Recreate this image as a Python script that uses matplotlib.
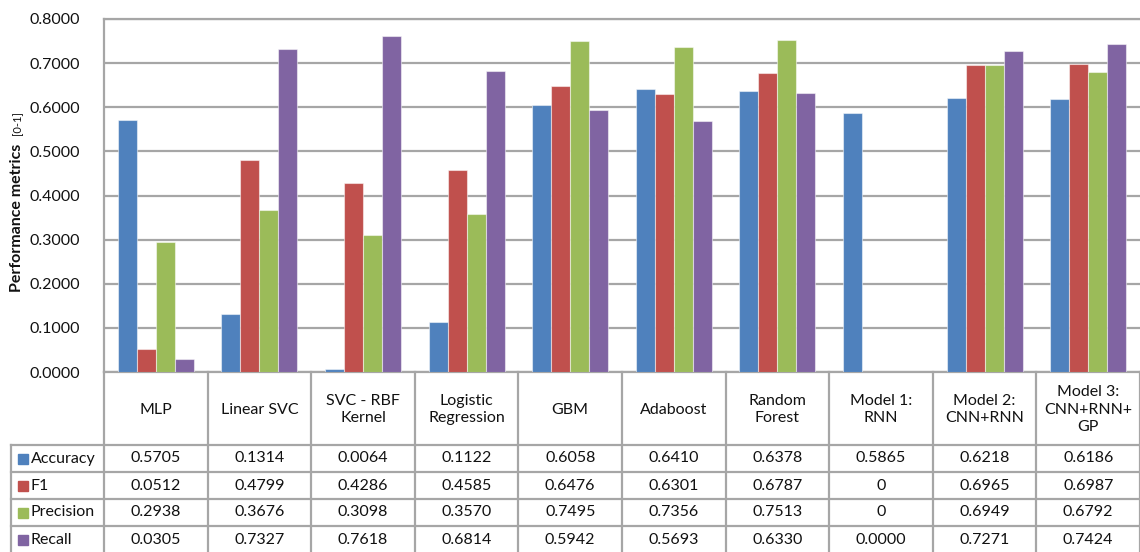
import matplotlib
matplotlib.use("Agg")
import matplotlib.pyplot as plt
from matplotlib.patches import Rectangle

plt.rcParams['font.family'] = ['Lato', 'DejaVu Sans']

models = ["MLP", "Linear SVC", "SVC - RBF\nKernel", "Logistic\nRegression", "GBM",
          "Adaboost", "Random\nForest", "Model 1:\nRNN", "Model 2:\nCNN+RNN",
          "Model 3:\nCNN+RNN+\nGP"]

# table cells as printed; bar heights are parsed from these
accuracy = ["0.5705", "0.1314", "0.0064", "0.1122", "0.6058", "0.6410", "0.6378", "0.5865", "0.6218", "0.6186"]
f1 = ["0.0512", "0.4799", "0.4286", "0.4585", "0.6476", "0.6301", "0.6787", "0", "0.6965", "0.6987"]
precision = ["0.2938", "0.3676", "0.3098", "0.3570", "0.7495", "0.7356", "0.7513", "0", "0.6949", "0.6792"]
recall = ["0.0305", "0.7327", "0.7618", "0.6814", "0.5942", "0.5693", "0.6330", "0.0000", "0.7271", "0.7424"]

series = [("Accuracy", accuracy, "#4F81BD"),
          ("F1", f1, "#C0504D"),
          ("Precision", precision, "#9BBB59"),
          ("Recall", recall, "#8064A2")]

W, H = 1140, 552
fig = plt.figure(figsize=(W / 100, H / 100), dpi=100)
txt_col = "#111111"

# plot area in pixels
px_left, px_right, px_top, px_bottom = 104, 1140, 19, 372
ax = fig.add_axes([px_left / W, 1 - px_bottom / H,
                   (px_right - px_left) / W, (px_bottom - px_top) / H])

grid_col = "#A6A6A6"
n = len(models)
bw = 0.183
for k, (name, vals, col) in enumerate(series):
    xs = [i + (k - 1.5) * bw for i in range(n)]
    ax.bar(xs, [float(v) for v in vals], width=bw, color=col,
           edgecolor=(1, 1, 1, 0.5), linewidth=0.8, zorder=3)

ax.set_xlim(-0.5, n - 0.5)
ax.set_ylim(0, 0.8)
ax.set_yticks([i / 10 for i in range(9)])
ax.set_yticklabels([f"{i / 10:.4f}" for i in range(9)], fontsize=11.5, color=txt_col)
ax.set_xticks([])
ax.tick_params(axis='y', length=0, pad=17)
ax.grid(axis='y', color=grid_col, linewidth=1.6, zorder=0)
for s in ["left", "top", "bottom"]:
    ax.spines[s].set_color(grid_col)
    ax.spines[s].set_linewidth(1.6)
ax.spines["right"].set_visible(False)

# y axis title
fig.text(17 / W, 1 - 292 / H, "Performance metrics", rotation=90, fontsize=11.5,
         fontweight='bold', ha='center', va='bottom', color=txt_col)
fig.text(18 / W, 1 - 135 / H, "[0-1]", rotation=90, fontsize=8,
         ha='center', va='bottom', color=txt_col)

# data table under the plot, drawn in pixel coordinates
tb = fig.add_axes([0, 0, 1, 1], zorder=5)
tb.set_xlim(0, W)
tb.set_ylim(H, 0)
tb.axis('off')

col_w = (px_right - px_left) / n
row_y = [445, 472, 499, 526, 553]
lab_left = 11
lw = 1.6

for i in range(n + 1):
    x = px_left + i * col_w
    tb.plot([x, x], [px_bottom, H], color=grid_col, lw=lw)
tb.plot([lab_left, lab_left], [row_y[0], H], color=grid_col, lw=lw)
for y in row_y[:-1]:
    tb.plot([lab_left, px_right], [y, y], color=grid_col, lw=lw)

for i, m in enumerate(models):
    cx = px_left + (i + 0.5) * col_w
    tb.text(cx, (px_bottom + row_y[0]) / 2 + 1, m, ha='center', va='center',
            fontsize=11.5, linespacing=1.35, color=txt_col)

for r, (name, vals, col) in enumerate(series):
    cy = (row_y[r] + row_y[r + 1]) / 2
    tb.add_patch(Rectangle((18, cy - 5), 10, 10, color=col))
    tb.text(31, cy, name, ha='left', va='center', fontsize=11.5, color=txt_col)
    for i, v in enumerate(vals):
        cx = px_left + (i + 0.5) * col_w
        tb.text(cx, cy, v, ha='center', va='center', fontsize=11.5, color=txt_col)

fig.savefig("out.png", dpi=100)
